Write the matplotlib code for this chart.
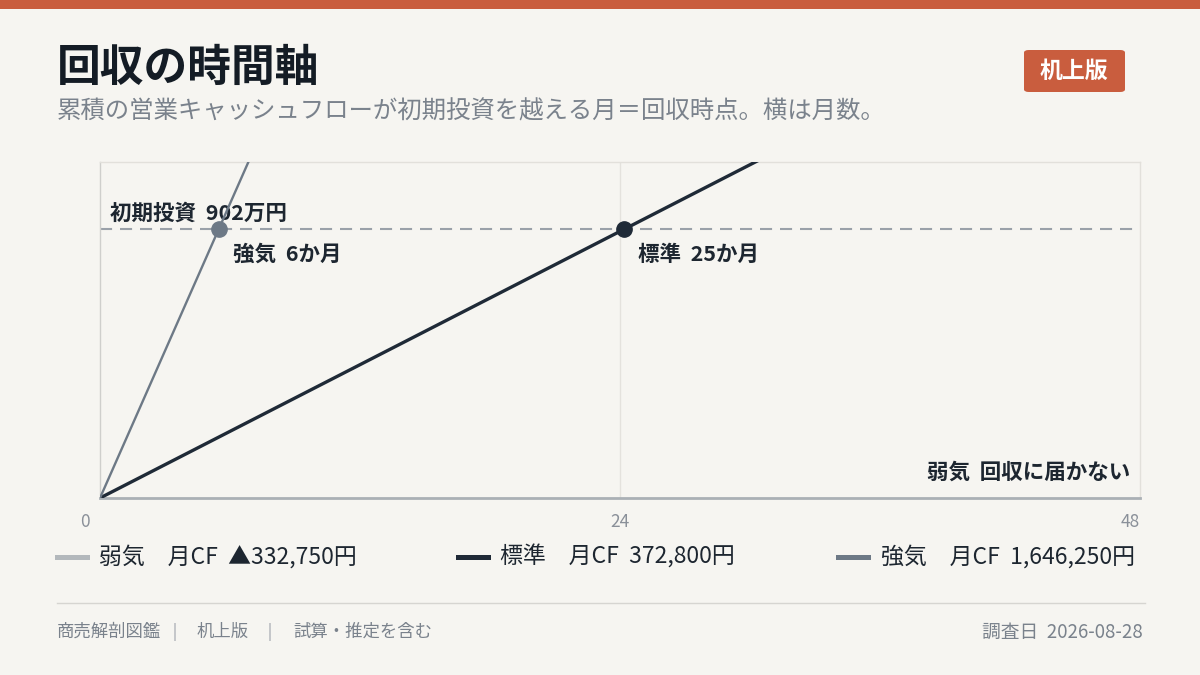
import math
import matplotlib
matplotlib.use("Agg")
import matplotlib.pyplot as plt
import matplotlib.transforms as mtransforms
from matplotlib.patches import FancyBboxPatch, Rectangle
import numpy as np

plt.rcParams['font.family'] = ['Noto Sans CJK JP', 'DejaVu Sans']

# データ（単位: 万円）
invest = 902
scenarios = ['弱気', '標準', '強気']
monthly_cf = [-33.275, 37.28, 164.625]
cf_labels = ['▲332,750円', '372,800円', '1,646,250円']
months = np.arange(0, 49)
x_ticks = [0, 24, 48]

colors = {'弱気': '#b3b8bc', '標準': '#1f2a37', '強気': '#6d7986'}
widths = {'弱気': 2.0, '標準': 2.4, '強気': 1.7}
bg = '#f6f5f1'
ink = '#1d2630'
grey = '#7a828c'

fig = plt.figure(figsize=(12, 6.75), dpi=100, facecolor=bg)

# 上の帯
fig.patches.append(Rectangle((0, 1 - 9 / 675), 1, 9 / 675, transform=fig.transFigure,
                             facecolor='#c95d3e', edgecolor='none'))

fig.text(57 / 1200, 1 - 68 / 675, '回収の時間軸', fontsize=31.5, fontweight='bold',
         color='#141c25', va='center', ha='left')
fig.text(57 / 1200, 1 - 111 / 675, '累積の営業キャッシュフローが初期投資を越える月＝回収時点。横は月数。',
         fontsize=17.6, color=grey, va='center', ha='left')

# バッジ
fig.patches.append(FancyBboxPatch((1024 / 1200, 1 - 92 / 675), 101 / 1200, 42 / 675,
                                  boxstyle='round,pad=0,rounding_size=0.004',
                                  transform=fig.transFigure, facecolor='#c95d3e', edgecolor='none'))
fig.text(1074 / 1200, 1 - 71 / 675, '机上版', fontsize=16.5, fontweight='bold',
         color='white', va='center', ha='center')

ax = fig.add_axes([100 / 1200, 1 - 498 / 675, 1040 / 1200, 336 / 675])
ax.set_facecolor(bg)
ymax = invest * 1.25
ax.set_xlim(0, 48)
ax.set_ylim(0, ymax)

for s in ['top', 'right', 'left']:
    ax.spines[s].set_color('#e2e0db')
    ax.spines[s].set_linewidth(1)
ax.spines['left'].set_color('#cfcfcc')
ax.spines['bottom'].set_color('#aab0b5')
ax.spines['bottom'].set_linewidth(2)
ax.axvline(24, color='#e4e2dd', lw=1, zorder=0)
ax.set_xticks([])
ax.set_yticks([])

trans = mtransforms.blended_transform_factory(ax.transData, ax.transAxes)
for t in x_ticks:
    ha = 'center' if t == 24 else 'right'
    dx = -10 if t == 0 else 0
    ax.annotate(str(t), xy=(t, 0), xycoords=trans, xytext=(dx, -24), textcoords='offset pixels',
                ha=ha, va='center', fontsize=12.5, color='#8a9099', annotation_clip=False)

ax.axhline(invest, color='#9aa1a9', lw=1.5, ls=(0, (5.8, 3.8)), zorder=1)
ax.text(0.45, invest + 18, '初期投資  902万円', fontsize=15.5, fontweight='bold',
        color=ink, ha='left', va='bottom')

for name, cf in zip(scenarios, monthly_cf):
    cum = cf * months
    ax.plot(months, cum, color=colors[name], lw=widths[name], zorder=3,
            solid_capstyle='butt', clip_on=True)
    if cf > 0:
        m = invest / cf
        ax.plot([m], [invest], 'o', ms=11, color=colors[name], zorder=4)
        ax.annotate(f'{name}  {math.ceil(m)}か月', xy=(m, invest), xytext=(14, -25),
                    textcoords='offset pixels', fontsize=15.5, fontweight='bold',
                    color=ink, ha='left', va='center')
    else:
        ax.annotate(f'{name}  回収に届かない', xy=(48, 0), xytext=(-10, 26),
                    textcoords='offset pixels', fontsize=15.5, fontweight='bold',
                    color=ink, ha='right', va='center')

# 凡例
leg_x = [(57, 87, 99), (458, 488, 500), (838, 868, 881)]
for (x0, x1, tx), name, lab in zip(leg_x, scenarios, cf_labels):
    y = 1 - 557 / 675
    fig.add_artist(plt.Line2D([x0 / 1200, x1 / 1200], [y, y], color=colors[name], lw=3.6,
                              transform=fig.transFigure))
    fig.text(tx / 1200, y, f'{name}　月CF  {lab}', fontsize=16.5, color=ink,
             va='center', ha='left')

fig.add_artist(plt.Line2D([57 / 1200, 1145 / 1200], [1 - 603 / 675, 1 - 603 / 675],
                          color='#d6d5d1', lw=1, transform=fig.transFigure))
footer_y = 1 - 632 / 675
for tx, txt in zip([49, 197, 293], ['商売解剖図鑑', '机上版', '試算・推定を含む']):
    fig.text(max(tx, 57) / 1200, footer_y, txt, fontsize=12.5, color=grey, va='center', ha='left')
for bx in [175, 270]:
    fig.text(bx / 1200, footer_y, '|', fontsize=12.5, color='#b5b9be', va='center', ha='center',
             family='DejaVu Sans')
fig.text(1143 / 1200, footer_y, '調査日  2026-08-28', fontsize=13.5, color=grey,
         va='center', ha='right')

fig.savefig('out.png', dpi=100, facecolor=bg)
